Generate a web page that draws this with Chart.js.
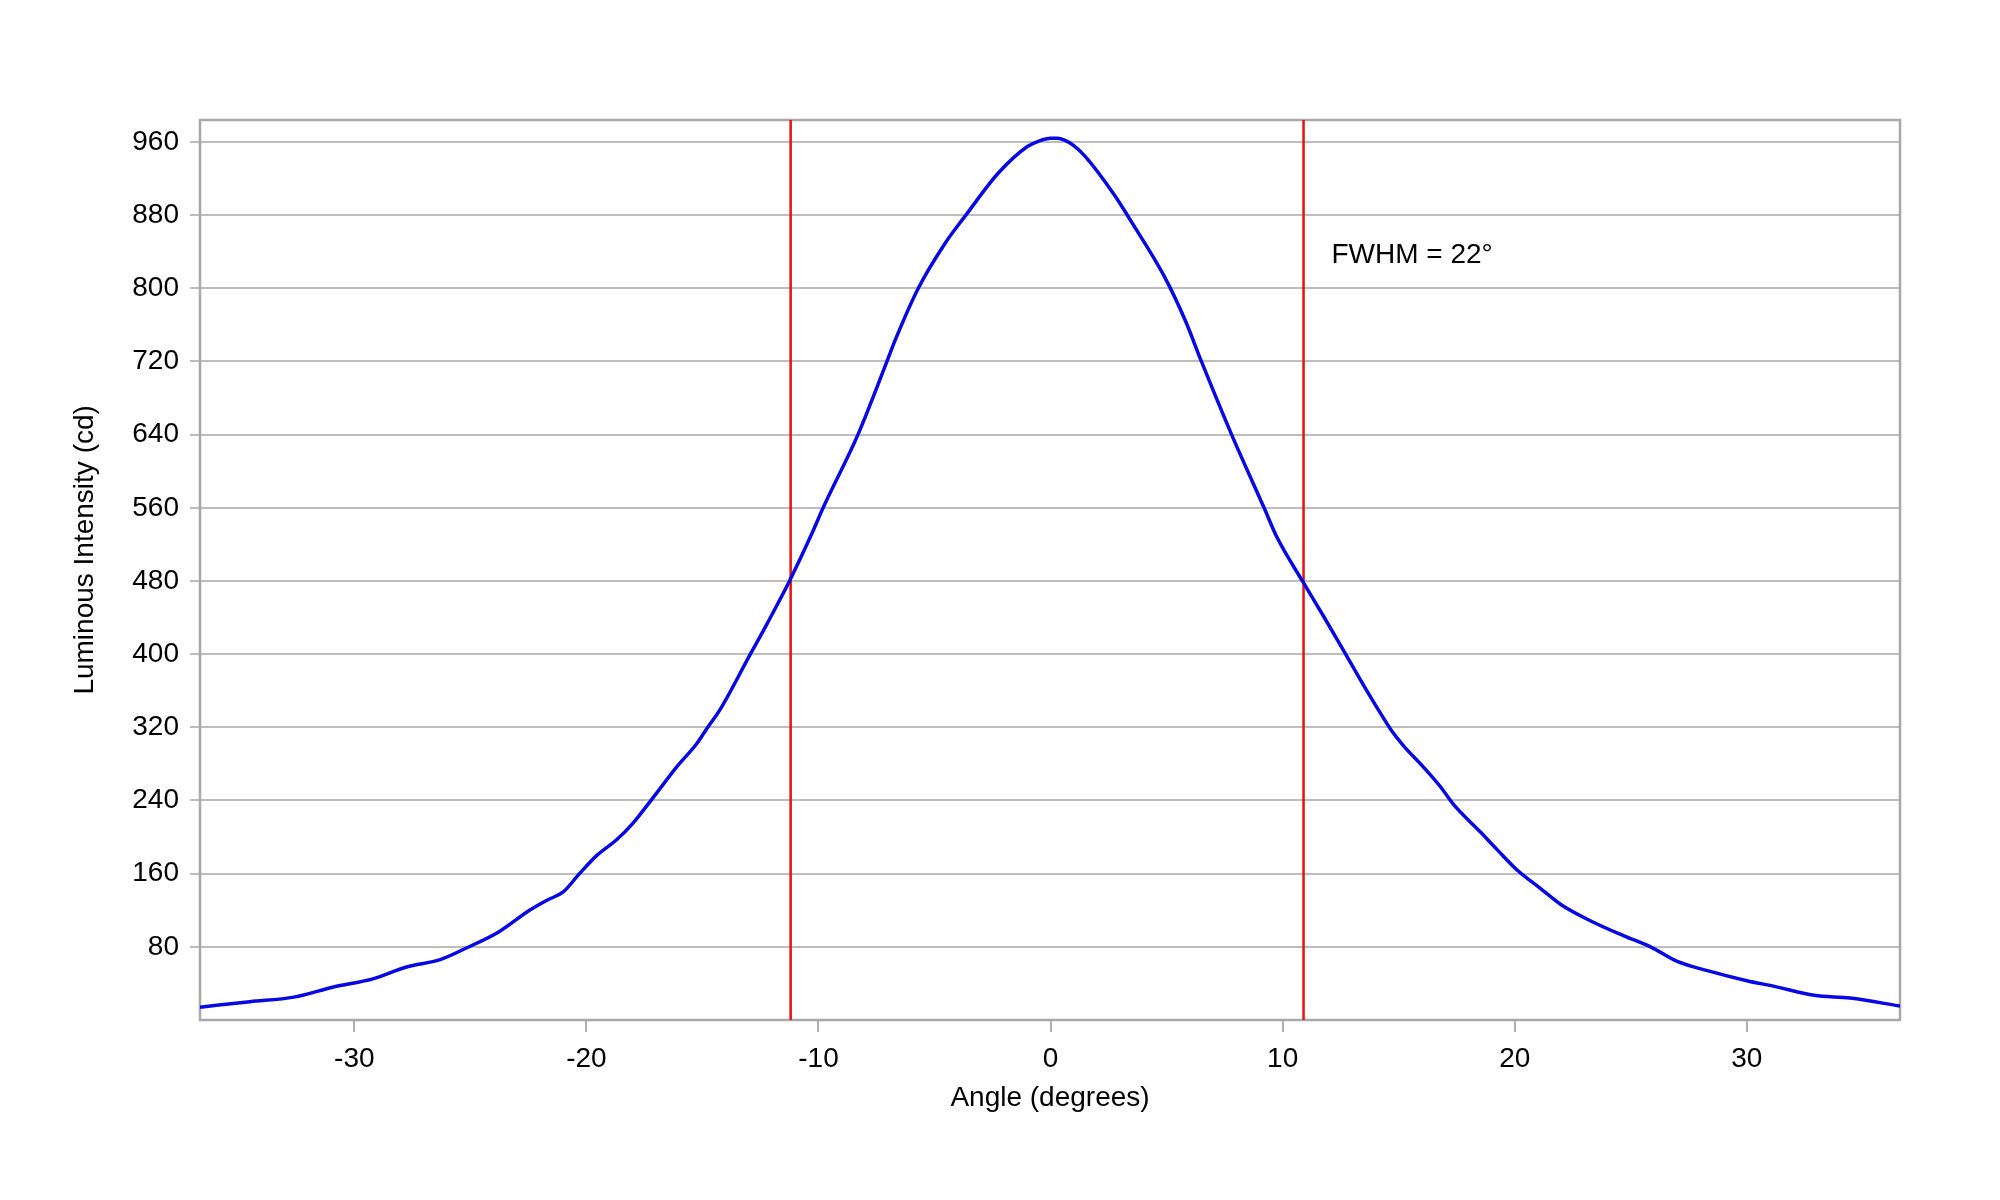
<!DOCTYPE html>
<html>
<head>
<meta charset="utf-8">
<script src="https://cdn.jsdelivr.net/npm/chart.js@4"></script>
<style>
  html, body { margin: 0; padding: 0; background: #fff; }
  #wrap { width: 2000px; height: 1200px; }
</style>
</head>
<body>
<div id="wrap"><canvas id="beam" width="2000" height="1200"></canvas></div>
<script>
var angles = [-36.65, -34.5, -32.6, -30.9, -29.2, -27.75, -26.3, -25.15, -23.8, -22.45, -21.7, -21.0,
  -20.3, -19.55, -18.7, -18.0, -17.1, -16.1, -15.25, -14.8, -14.25, -13.0, -12.2, -11.25, -10.3, -9.8,
  -8.3, -7.05, -6.7, -5.7, -4.55, -3.65, -2.25, -1.0, -0.5, 0.0, 0.3, 0.6, 1.0, 1.5, 2.75, 3.5, 4.9, 5.8,
  6.5, 7.8, 9.2, 9.75, 10.85, 11.75, 12.6, 13.35, 14.2, 14.65, 15.2, 16.05, 16.8, 17.35, 18.5, 19.25,
  20.1, 21.1, 22.0, 23.3, 24.7, 25.85, 27.0, 28.3, 30.0, 31.15, 32.9, 34.45, 36.65];
var intensity = [14, 20, 25, 36, 45, 58, 66, 79, 96, 120, 131, 140,
  160, 180, 197, 215, 244, 277, 302, 319, 339, 397, 434, 480, 531, 560,
  640, 720, 743, 800, 849, 880, 926, 955, 961, 964, 964, 962, 956, 944, 902, 872, 813, 765,
  720, 640, 560, 528, 480, 442, 405, 372, 336, 318, 300, 277, 255, 236, 206, 186,
  164, 144, 126, 108, 92, 80, 64, 54, 43, 37, 27, 24, 15];

// half-maximum markers
var fwhmLeft = -11.2;
var fwhmRight = 10.9;
var fwhmLabel = 'FWHM = 22\u00b0';

var xMin = -36.65, xMax = 36.6;
var yMin = 0, yMax = 984;

var FONT = 'Liberation Sans, Arial, sans-serif';

function pts(xs, ys) {
  return xs.map(function (x, i) { return { x: x, y: ys[i] }; });
}

var boxPlugin = {
  id: 'box',
  beforeDatasetsDraw: function (chart) {
    var a = chart.chartArea, ctx = chart.ctx;
    ctx.save();
    ctx.strokeStyle = '#a8a8a8';
    ctx.lineWidth = 2.5;
    ctx.strokeRect(a.left, a.top, a.right - a.left, a.bottom - a.top);
    ctx.restore();
  },
  afterDatasetsDraw: function (chart) {
    var ctx = chart.ctx;
    var x = chart.scales.x.getPixelForValue(12.1);
    var y = chart.scales.y.getPixelForValue(828);
    ctx.save();
    ctx.font = '28px ' + FONT;
    ctx.fillStyle = '#000';
    ctx.textBaseline = 'alphabetic';
    ctx.fillText(fwhmLabel, x, y);
    // y axis title, sits a little above the middle of the axis
    ctx.translate(85, chart.scales.y.getPixelForValue(514));
    ctx.rotate(-Math.PI / 2);
    ctx.textAlign = 'center';
    ctx.textBaseline = 'middle';
    ctx.fillText('Luminous Intensity (cd)', 0, 0);
    ctx.restore();
  }
};

new Chart(document.getElementById('beam'), {
  type: 'line',
  data: {
    datasets: [{
      data: pts(angles, intensity),
      borderColor: '#0808e4',
      borderWidth: 3.5,
      pointRadius: 0,
      cubicInterpolationMode: 'monotone',
      fill: false
    }, {
      data: pts([fwhmLeft, fwhmLeft], [yMin, yMax]),
      borderColor: '#e81010',
      borderWidth: 2.5,
      pointRadius: 0
    }, {
      data: pts([fwhmRight, fwhmRight], [yMin, yMax]),
      borderColor: '#e81010',
      borderWidth: 2.5,
      pointRadius: 0
    }]
  },
  options: {
    responsive: false,
    animation: false,
    devicePixelRatio: 1,
    layout: { padding: { left: 0, top: 120, right: 100, bottom: 0 } },
    plugins: { legend: { display: false }, tooltip: { enabled: false } },
    scales: {
      x: {
        type: 'linear',
        min: xMin,
        max: xMax,
        afterFit: function (s) { s.height = 180; },
        grid: { drawOnChartArea: false, color: '#b0b0b0', lineWidth: 2, tickLength: 12 },
        border: { display: false },
        ticks: {
          stepSize: 10, includeBounds: false, padding: 10,
          color: '#000', font: { family: FONT, size: 28 }
        },
        title: {
          display: true, text: 'Angle (degrees)', color: '#000',
          font: { family: FONT, size: 28 }, padding: { top: 0, bottom: 85 }
        }
      },
      y: {
        min: yMin,
        max: yMax,
        afterFit: function (s) { s.width = 200; },
        grid: {
          color: function (c) { return c.tick && c.tick.value === 0 ? 'rgba(0,0,0,0)' : '#bdbdbd'; },
          lineWidth: 2, tickLength: 10
        },
        border: { display: false },
        ticks: {
          stepSize: 80, includeBounds: false, padding: 11,
          color: '#000', font: { family: FONT, size: 28 },
          callback: function (v) { return v === 0 ? '' : v; }
        },
        title: { display: false }
      }
    }
  },
  plugins: [boxPlugin]
});
</script>
</body>
</html>
